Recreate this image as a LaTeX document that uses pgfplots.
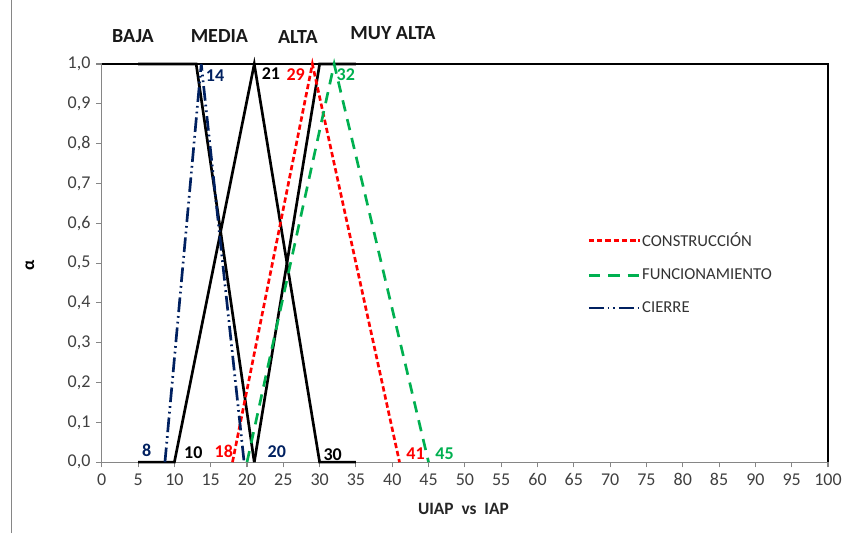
\documentclass[border=0pt]{standalone}
\usepackage{pgfplots}
\pgfplotsset{compat=1.18}
\usepackage{fontspec}
\setmainfont{Carlito}
\definecolor{cred}{RGB}{255,0,0}
\definecolor{cgreen}{RGB}{0,176,80}
\definecolor{cnavy}{RGB}{0,32,96}
\definecolor{cgrid}{RGB}{134,134,134}
\begin{document}
\begin{tikzpicture}
\useasboundingbox (-76.3pt,-53.25pt) rectangle (555.75pt,346.5pt);
\draw[cgrid, line width=0.8pt] (-67.5pt,-53.25pt) -- (-67.5pt,346.5pt);
\begin{axis}[
  at={(0,0)}, anchor=south west,
  scale only axis, width=544.5pt, height=298.5pt,
  xmin=0, xmax=100, ymin=0, ymax=1,
  xtick={0,5,...,100}, ytick={0,0.1,...,1.01},
  axis line style={cgrid, line width=0.8pt},
  tick style={cgrid, line width=0.8pt},
  tick align=outside, major tick length=4pt,
  x tick label style={font=\fontsize{13.5}{15}\selectfont, text=black!75, yshift=-1pt},
  y tick label style={font=\fontsize{13.5}{15}\selectfont, text=black!75, xshift=-1pt},
  yticklabel style={/pgf/number format/.cd, fixed, fixed zerofill, precision=1, use comma},
  /pgf/number format/assume math mode=true,
  xticklabel style={/pgf/number format/.cd, fixed, precision=0},
  axis x line*=bottom, axis y line*=left,
  legend style={draw=none, fill=none, at={(rel axis cs:0.663,0.59)}, anchor=north west,
    font=\fontsize{12.5}{14}\selectfont, text=black!80, row sep=11pt, cells={anchor=west},
    nodes={inner xsep=1pt}},
  legend cell align=left,
  legend image code/.code={\draw[#1] (-6pt,0pt) -- (32pt,0pt);},
  clip=false,
]
\draw[black, line width=1.2pt] (rel axis cs:0,1) -- (rel axis cs:1,1) -- (rel axis cs:1,0);
% BAJA
\addplot[black, line width=2pt, forget plot] coordinates {(5,1) (13,1) (21,0)};
% MEDIA
\addplot[black, line width=2pt, forget plot] coordinates {(5,0) (10,0) (21,1) (30,0) (35,0)};
% ALTA
\addplot[black, line width=2pt, forget plot] coordinates {(21,0) (30,1) (35,1)};
% CONSTRUCCION
\addplot[cred, line width=2pt, dash pattern=on 4pt off 2.2pt] coordinates {(18,0) (29,1) (41,0)};
\addlegendentry{CONSTRUCCIÓN}
% FUNCIONAMIENTO
\addplot[cgreen, line width=2pt, dash pattern=on 8.5pt off 6pt] coordinates {(20,0) (32,1) (45,0)};
\addlegendentry{FUNCIONAMIENTO}
% CIERRE
\addplot[cnavy, line width=2pt, dash pattern=on 11pt off 3pt on 1.3pt off 3pt on 1.3pt off 3pt] coordinates {(8.7,0) (13.7,1) (19.6,0)};
\addlegendentry{CIERRE}
% data labels
\begin{scope}[font=\fontsize{13.5}{15}\selectfont\bfseries]
\node[text=cnavy] at (axis cs:6.2,0.03) {8};
\node[text=black] at (axis cs:12.6,0.024) {10};
\node[text=cred] at (axis cs:16.8,0.027) {18};
\node[text=cnavy] at (axis cs:24.1,0.027) {20};
\node[text=black] at (axis cs:31.8,0.02) {30};
\node[text=cred] at (axis cs:43.2,0.022) {41};
\node[text=cgreen] at (axis cs:47.2,0.022) {45};
\node[text=cnavy] at (axis cs:15.6,0.97) {14};
\node[text=black] at (axis cs:23.3,0.975) {21};
\node[text=cred] at (axis cs:26.7,0.973) {29};
\node[text=cgreen] at (axis cs:33.6,0.973) {32};
\end{scope}
\begin{scope}[font=\fontsize{15}{17}\selectfont\bfseries, text=black!90]
\node at (axis cs:4.3,1.07) {BAJA};
\node at (axis cs:16.2,1.07) {MEDIA};
\node at (axis cs:27.0,1.067) {ALTA};
\node at (axis cs:40.1,1.077) {MUY ALTA};
\end{scope}
\node[font=\fontsize{13}{15}\selectfont\bfseries, text=black!85] at ([yshift=-35pt]rel axis cs:0.498,0) {UIAP\ \ vs\ \ IAP};
\node[font=\fontsize{13}{15}\selectfont\bfseries, rotate=90] at ([xshift=-53.8pt]rel axis cs:0,0.495) {α};
\end{axis}
\end{tikzpicture}
\end{document}
